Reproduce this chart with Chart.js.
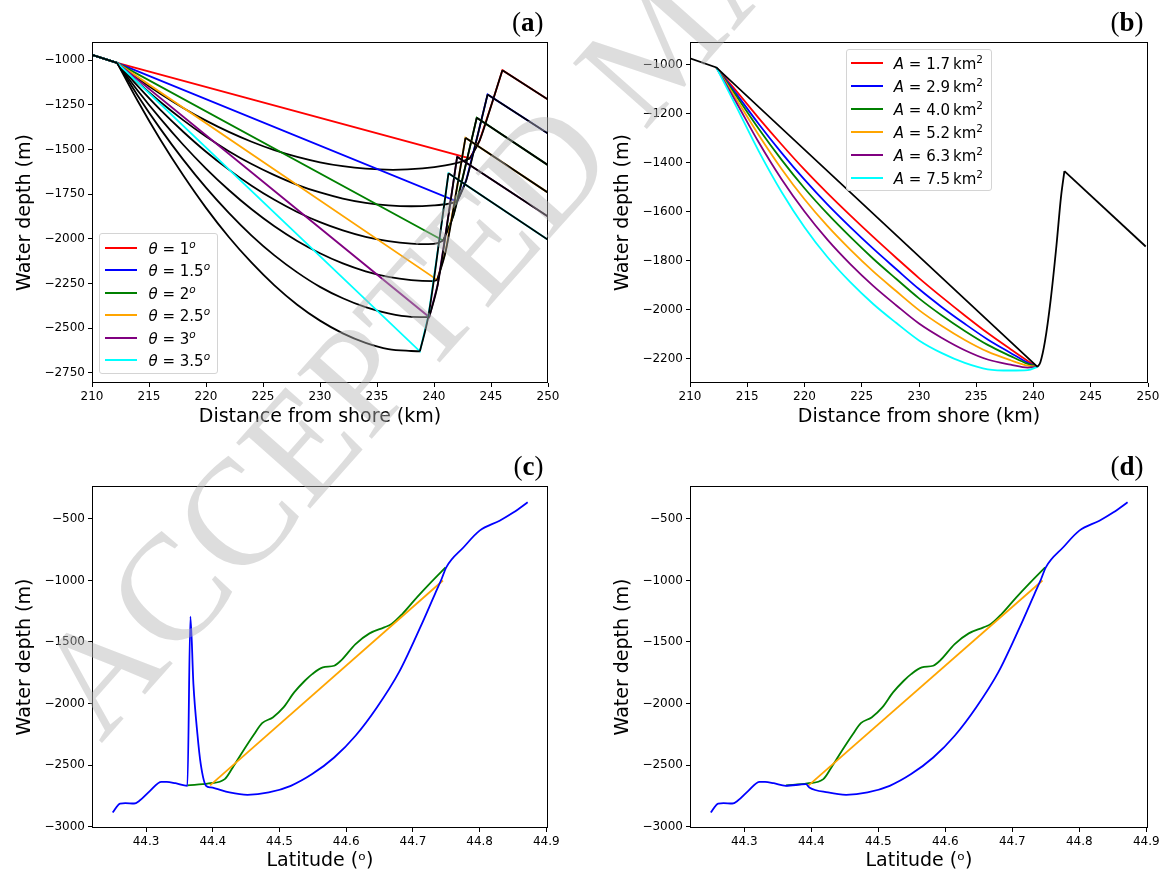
<!DOCTYPE html>
<html>
<head>
<meta charset="utf-8">
<title>Canyon profiles</title>
<script src="https://cdn.jsdelivr.net/npm/chart.js@4.4.0/dist/chart.umd.min.js"></script>
<style>
  html, body { margin: 0; padding: 0; background: #fff; }
  #fig { position: relative; width: 1167px; height: 872px; overflow: hidden; font-family: 'DejaVu Sans', sans-serif; }
  #fig canvas { position: absolute; }
  .legend { position: absolute; background: rgba(255,255,255,0.85); border: 1px solid #d4d4d4; border-radius: 3px; box-sizing: border-box; z-index: 2; }
  .legend .row { display: flex; align-items: center; }
  .legend .swatch { display: inline-block; width: 32px; height: 2px; }
  .legend .txt { font-size: 15px; color: #000; white-space: nowrap; line-height: 1; }
  .legend sup { font-size: 70%; }
  #wm { position: absolute; left: 0; top: 0; width: 1167px; height: 872px; pointer-events: none; z-index: 5; }
</style>
</head>
<body>
<div id="fig">
  <canvas id="chartA" width="583" height="436" style="left:0;top:0"></canvas>
  <canvas id="chartB" width="569" height="436" style="left:598px;top:0"></canvas>
  <canvas id="chartC" width="583" height="436" style="left:0;top:436px"></canvas>
  <canvas id="chartD" width="569" height="436" style="left:598px;top:436px"></canvas>
  <div class="legend" id="legendA" style="left:99px;top:233px;width:119px;height:141px;padding-top:2.5px"></div>
  <div class="legend" id="legendB" style="left:846px;top:49px;width:146px;height:142px;padding-top:1.3px"></div>
  <svg id="wm" xmlns="http://www.w3.org/2000/svg">
    <text transform="translate(101,744) rotate(-48.4)" font-family="Liberation Serif, serif" font-size="151" fill="#b4b4b4" fill-opacity="0.45">ACCEPTED MANUSCRIPT</text>
  </svg>
</div>
<script>
// --- общие оси ---
const kmRange = [210, 250];
const kmTicks = [210, 215, 220, 225, 230, 235, 240, 245, 250];
const depthRangeA = [-2806, -898];
const depthTicksA = [-2750, -2500, -2250, -2000, -1750, -1500, -1250, -1000];
const depthRangeB = [-2300, -906];
const depthTicksB = [-2200, -2000, -1800, -1600, -1400, -1200, -1000];
const latRange = [44.219, 44.9025];
const latTicks = [44.3, 44.4, 44.5, 44.6, 44.7, 44.8, 44.9];
const depthRangeCD = [-3012, -232];
const depthTicksCD = [-3000, -2500, -2000, -1500, -1000, -500];

const lineColors = ['#ff0000', '#0000ff', '#008000', '#ffa500', '#800080', '#00ffff'];

// --- (a) разные углы склона ---
const thetaLabels = ['1', '1.5', '2', '2.5', '3', '3.5'];
const shelfKm = [210, 212.2];
const shelfDepth = [-970, -1015];
const troughKm = [243.14, 242.03, 240.8, 240.28, 239.58, 238.76];
const troughDepth = [-1549, -1791, -2009, -2229, -2437, -2629];
const riseKm = [[244.0, 245.14], [242.83, 243.9], [241.69, 242.87], [241.02, 242.02], [240.32, 241.3], [239.51, 240.52]];
const riseDepth = [[-1450, -1229], [-1671, -1402], [-1872, -1562], [-2070, -1712], [-2258, -1854], [-2430, -1982]];
const peakKm = [246.0, 244.7, 243.75, 242.76, 242.03, 241.27];
const peakDepth = [-1056, -1192, -1322, -1434, -1540, -1633];
const endKm = 250;
const endDepth = [-1220, -1410, -1587, -1741, -1875, -2005];

// сглаженные (чёрные) профили, от бровки шельфа до дна
const smoothKm = [
  [212.2, 214, 216, 218, 220, 222, 224, 226, 228, 230, 232, 234, 236.4, 239, 241, 242.5, 243.14],
  [212.2, 214, 216, 218, 220, 222, 224, 226, 228, 230, 232, 234, 236, 238, 240, 241.3, 242.03],
  [212.2, 214, 216, 218, 220, 222, 224, 226, 228, 230, 232, 234, 236, 238, 239.5, 240.3, 240.8],
  [212.2, 214, 216, 218, 220, 222, 224, 226, 228, 230, 232, 234, 236, 238, 239.9, 240.28],
  [212.2, 214, 216, 218, 220, 222, 224, 226, 228, 230, 232, 234, 236, 238, 239.58],
  [212.2, 214, 216, 218, 220, 222, 224, 226, 228, 230, 232, 234, 236, 238, 238.76]
];
const smoothDepth = [
  [-1015, -1101, -1188, -1267, -1338, -1401, -1456, -1503, -1541, -1571, -1593, -1607, -1613, -1605, -1588, -1566, -1549],
  [-1015, -1123, -1234, -1335, -1427, -1509, -1581, -1643, -1697, -1740, -1774, -1798, -1812, -1817, -1812, -1803, -1791],
  [-1015, -1144, -1278, -1400, -1512, -1612, -1702, -1781, -1849, -1906, -1952, -1988, -2012, -2026, -2029, -2024, -2009],
  [-1015, -1169, -1327, -1473, -1606, -1726, -1834, -1929, -2011, -2080, -2137, -2181, -2212, -2230, -2236, -2229],
  [-1015, -1197, -1384, -1556, -1713, -1854, -1981, -2092, -2187, -2268, -2332, -2382, -2417, -2436, -2437],
  [-1015, -1227, -1445, -1644, -1826, -1989, -2133, -2260, -2368, -2457, -2528, -2581, -2616, -2627, -2629]
];

// --- (b) разная площадь сечения ---
const areaLabels = ['1.7', '2.9', '4.0', '5.2', '6.3', '7.5'];
const bKm = [212.3, 214, 216, 218, 220, 222, 224, 226, 228, 230, 232, 234, 236, 238, 239.5, 240.35];
const bDepth = [
  [-1010, -1104, -1217, -1325, -1428, -1524, -1615, -1703, -1788, -1871, -1949, -2024, -2096, -2162, -2210, -2234],
  [-1010, -1115, -1241, -1359, -1469, -1570, -1663, -1751, -1834, -1916, -1990, -2058, -2122, -2177, -2217, -2234],
  [-1010, -1124, -1261, -1388, -1504, -1608, -1703, -1792, -1874, -1954, -2024, -2087, -2144, -2190, -2222, -2234],
  [-1010, -1136, -1286, -1425, -1549, -1658, -1755, -1844, -1924, -2002, -2067, -2124, -2172, -2207, -2229, -2234],
  [-1010, -1149, -1316, -1467, -1599, -1714, -1814, -1903, -1982, -2057, -2116, -2166, -2204, -2225, -2237, -2234],
  [-1010, -1166, -1352, -1519, -1663, -1785, -1888, -1977, -2054, -2126, -2178, -2218, -2244, -2249, -2247, -2234]
];
const bLineKm = [210, 212.3, 240.35];
const bLineDepth = [-973, -1010, -2234];
const bRiseKm = [240.35, 240.6, 241.0, 241.5, 242.0, 242.4, 242.7];
const bRiseDepth = [-2234, -2215, -2130, -1960, -1740, -1540, -1434];
const bDeclineKm = [242.7, 249.8];
const bDeclineDepth = [-1434, -1742];

// --- (c), (d) реальный разрез по широте ---
const latWest = [44.25, 44.261, 44.269, 44.282, 44.29, 44.306, 44.323, 44.331, 44.344, 44.362];
const depthWest = [-2886, -2813, -2810, -2813, -2791, -2710, -2637, -2637, -2648, -2669];
const latSpike = [44.3665, 44.371, 44.377, 44.382, 44.39];
const depthSpike = [-1294, -1841, -2248, -2493, -2669];
const latJoin = [44.392];
const depthJoin = [-2656];
const latBowl = [44.397, 44.425, 44.452, 44.484, 44.517, 44.549, 44.582, 44.614, 44.646, 44.679, 44.711, 44.733, 44.743, 44.75, 44.776, 44.8, 44.83, 44.851, 44.872];
const depthBowl = [-2682, -2723, -2742, -2723, -2669, -2574, -2439, -2262, -2032, -1747, -1381, -1110, -988, -893, -730, -595, -514, -446, -364];
const latGreen = [44.362, 44.394, 44.418, 44.43, 44.445, 44.462, 44.474, 44.49, 44.506, 44.522, 44.538, 44.549, 44.565, 44.582, 44.592, 44.614, 44.635, 44.657, 44.668, 44.684, 44.706, 44.727, 44.749];
const depthGreen = [-2666, -2650, -2615, -2520, -2390, -2250, -2160, -2113, -2032, -1910, -1815, -1761, -1707, -1693, -1652, -1517, -1430, -1381, -1354, -1273, -1137, -1015, -893];
const latOrange = [44.396, 44.745];
const depthOrange = [-2665, -1000];

const pts = (xs, ys) => xs.map((x, i) => ({ x: x, y: ys[i] }));
const fmtDepth = v => (v < 0 ? '\u2212' : '') + Math.abs(v);

// рамка вокруг графика и подпись панели
const framePlugin = {
  id: 'frame',
  afterDatasetsDraw(chart, args, opts) {
    const { ctx, chartArea: a } = chart;
    ctx.save();
    ctx.strokeStyle = '#000';
    ctx.lineWidth = 1;
    ctx.strokeRect(Math.round(a.left) + 0.5, Math.round(a.top) + 0.5, Math.round(a.right - a.left) - 1, Math.round(a.bottom - a.top) - 1);
    // (a) - скобки обычные, буква жирная
    const y = a.top - 11.5;
    const normal = "27px 'Liberation Serif', serif";
    const bold = "bold 27px 'Liberation Serif', serif";
    ctx.fillStyle = '#000';
    ctx.textBaseline = 'alphabetic';
    ctx.font = normal;
    const wp = ctx.measureText(')').width;
    ctx.font = bold;
    const wl = ctx.measureText(opts.tag).width;
    let x = a.right - 4.5 - wp - wl - wp;
    ctx.font = normal; ctx.fillText('(', x, y); x += wp;
    ctx.font = bold; ctx.fillText(opts.tag, x, y); x += wl;
    ctx.font = normal; ctx.fillText(')', x, y);
    ctx.restore();
  }
};

function scales(cfg) {
  const tickFont = { family: 'DejaVu Sans', size: 12 };
  const titleFont = { family: 'DejaVu Sans', size: 19 };
  return {
    x: {
      type: 'linear', min: cfg.xr[0], max: cfg.xr[1],
      afterBuildTicks: s => { s.ticks = cfg.xt.map(v => ({ value: v })); },
      afterFit: s => { s.height = cfg.xH; s.paddingLeft = 0; s.paddingRight = 0; },
      grid: { drawOnChartArea: false, drawTicks: true, tickLength: 4, color: '#000', lineWidth: 1 },
      border: { display: false },
      ticks: { color: '#000', font: tickFont, padding: 3, maxRotation: 0, autoSkip: false, callback: cfg.xFmt },
      title: { display: true, text: cfg.xTitle, color: '#000', font: titleFont, padding: { top: 0, bottom: cfg.xTitlePad } }
    },
    y: {
      type: 'linear', min: cfg.yr[0], max: cfg.yr[1],
      afterBuildTicks: s => { s.ticks = cfg.yt.map(v => ({ value: v })); },
      afterFit: s => { s.width = 92; s.paddingTop = 0; s.paddingBottom = 0; },
      grid: { drawOnChartArea: false, drawTicks: true, tickLength: 4, color: '#000', lineWidth: 1 },
      border: { display: false },
      ticks: { color: '#000', font: tickFont, padding: 3, autoSkip: false, callback: fmtDepth },
      title: { display: true, text: 'Water depth (m)', color: '#000', font: titleFont, padding: { top: 14, bottom: 0 } }
    }
  };
}

function makeChart(id, datasets, cfg) {
  return new Chart(document.getElementById(id), {
    type: 'line',
    data: { datasets: datasets },
    options: {
      responsive: false,
      animation: false,
      layout: { padding: { left: 0, top: cfg.padT, right: cfg.padR, bottom: 0 } },
      elements: { point: { radius: 0 }, line: { borderWidth: 1.8, tension: 0 } },
      plugins: { legend: { display: false }, tooltip: { enabled: false }, frame: { tag: cfg.tag } },
      scales: scales(cfg)
    },
    plugins: [framePlugin]
  });
}

// --- (a) ---
const dsA = [];
thetaLabels.forEach((t, i) => {
  const xs = shelfKm.concat([troughKm[i]], riseKm[i], [peakKm[i], endKm]);
  const ys = shelfDepth.concat([troughDepth[i]], riseDepth[i], [peakDepth[i], endDepth[i]]);
  dsA.push({ label: 'θ = ' + t, data: pts(xs, ys), borderColor: lineColors[i] });
  dsA.push({ data: pts(shelfKm, shelfDepth), borderColor: '#000' });
  dsA.push({ data: pts(smoothKm[i], smoothDepth[i]), borderColor: '#000', cubicInterpolationMode: 'monotone' });
  dsA.push({ data: pts([troughKm[i]].concat(riseKm[i], [peakKm[i]]), [troughDepth[i]].concat(riseDepth[i], [peakDepth[i]])),
             borderColor: '#000', cubicInterpolationMode: 'monotone' });
  dsA.push({ data: pts([peakKm[i], endKm], [peakDepth[i], endDepth[i]]), borderColor: '#000' });
});
// в Chart.js первый набор рисуется сверху, поэтому порядок переворачиваем
makeChart('chartA', dsA.reverse(), {
  tag: 'a', padT: 42, padR: 35, xH: 53, xTitlePad: 8,
  xr: kmRange, xt: kmTicks, yr: depthRangeA, yt: depthTicksA,
  xTitle: 'Distance from shore (km)', xFmt: v => String(v)
});

// --- (b) ---
const dsB = areaLabels.map((a, i) => ({
  label: 'A = ' + a + ' km²', data: pts(bKm, bDepth[i]), borderColor: lineColors[i], cubicInterpolationMode: 'monotone'
}));
dsB.push({ data: pts(bLineKm, bLineDepth), borderColor: '#000' });
dsB.push({ data: pts(bRiseKm, bRiseDepth), borderColor: '#000', cubicInterpolationMode: 'monotone' });
dsB.push({ data: pts(bDeclineKm, bDeclineDepth), borderColor: '#000' });
makeChart('chartB', dsB.reverse(), {
  tag: 'b', padT: 42, padR: 19, xH: 53, xTitlePad: 8,
  xr: kmRange, xt: kmTicks, yr: depthRangeB, yt: depthTicksB,
  xTitle: 'Distance from shore (km)', xFmt: v => String(v)
});

// --- (c), (d) ---
function latDatasets(withSpike) {
  const blueLat = withSpike ? latWest.concat(latSpike, latBowl) : latWest.concat(latJoin, latBowl);
  const blueDepth = withSpike ? depthWest.concat(depthSpike, depthBowl) : depthWest.concat(depthJoin, depthBowl);
  return [
    { data: pts(blueLat, blueDepth), borderColor: '#0000ff', cubicInterpolationMode: 'monotone' },
    { data: pts(latOrange, depthOrange), borderColor: '#ffa500' },
    { data: pts(latGreen, depthGreen), borderColor: '#008000', cubicInterpolationMode: 'monotone' }
  ];
}
const latCfg = { padT: 50, xH: 44, xTitlePad: 0, xr: latRange, xt: latTicks, yr: depthRangeCD, yt: depthTicksCD,
  xTitle: 'Latitude (ᵒ)', xFmt: v => v.toFixed(1) };
makeChart('chartC', latDatasets(true), Object.assign({ tag: 'c', padR: 35 }, latCfg));
makeChart('chartD', latDatasets(false), Object.assign({ tag: 'd', padR: 19 }, latCfg));

// --- легенды ---
function buildLegend(id, labels, fmt, rowH, swL, swR) {
  document.getElementById(id).innerHTML = labels.map((l, i) =>
    '<div class="row" style="height:' + rowH + 'px"><span class="swatch" style="background:' + lineColors[i] +
    ';margin-left:' + swL + 'px;margin-right:' + swR + 'px"></span><span class="txt">' + fmt(l) + '</span></div>').join('');
}
buildLegend('legendA', thetaLabels, t => '<i>θ</i> = ' + t + '<sup><i>o</i></sup>', 22.5, 5, 11.5);
buildLegend('legendB', areaLabels, a => '<i>A</i> = ' + a + '&thinsp;km<sup>2</sup>', 23.1, 3.8, 11);
</script>
</body>
</html>
